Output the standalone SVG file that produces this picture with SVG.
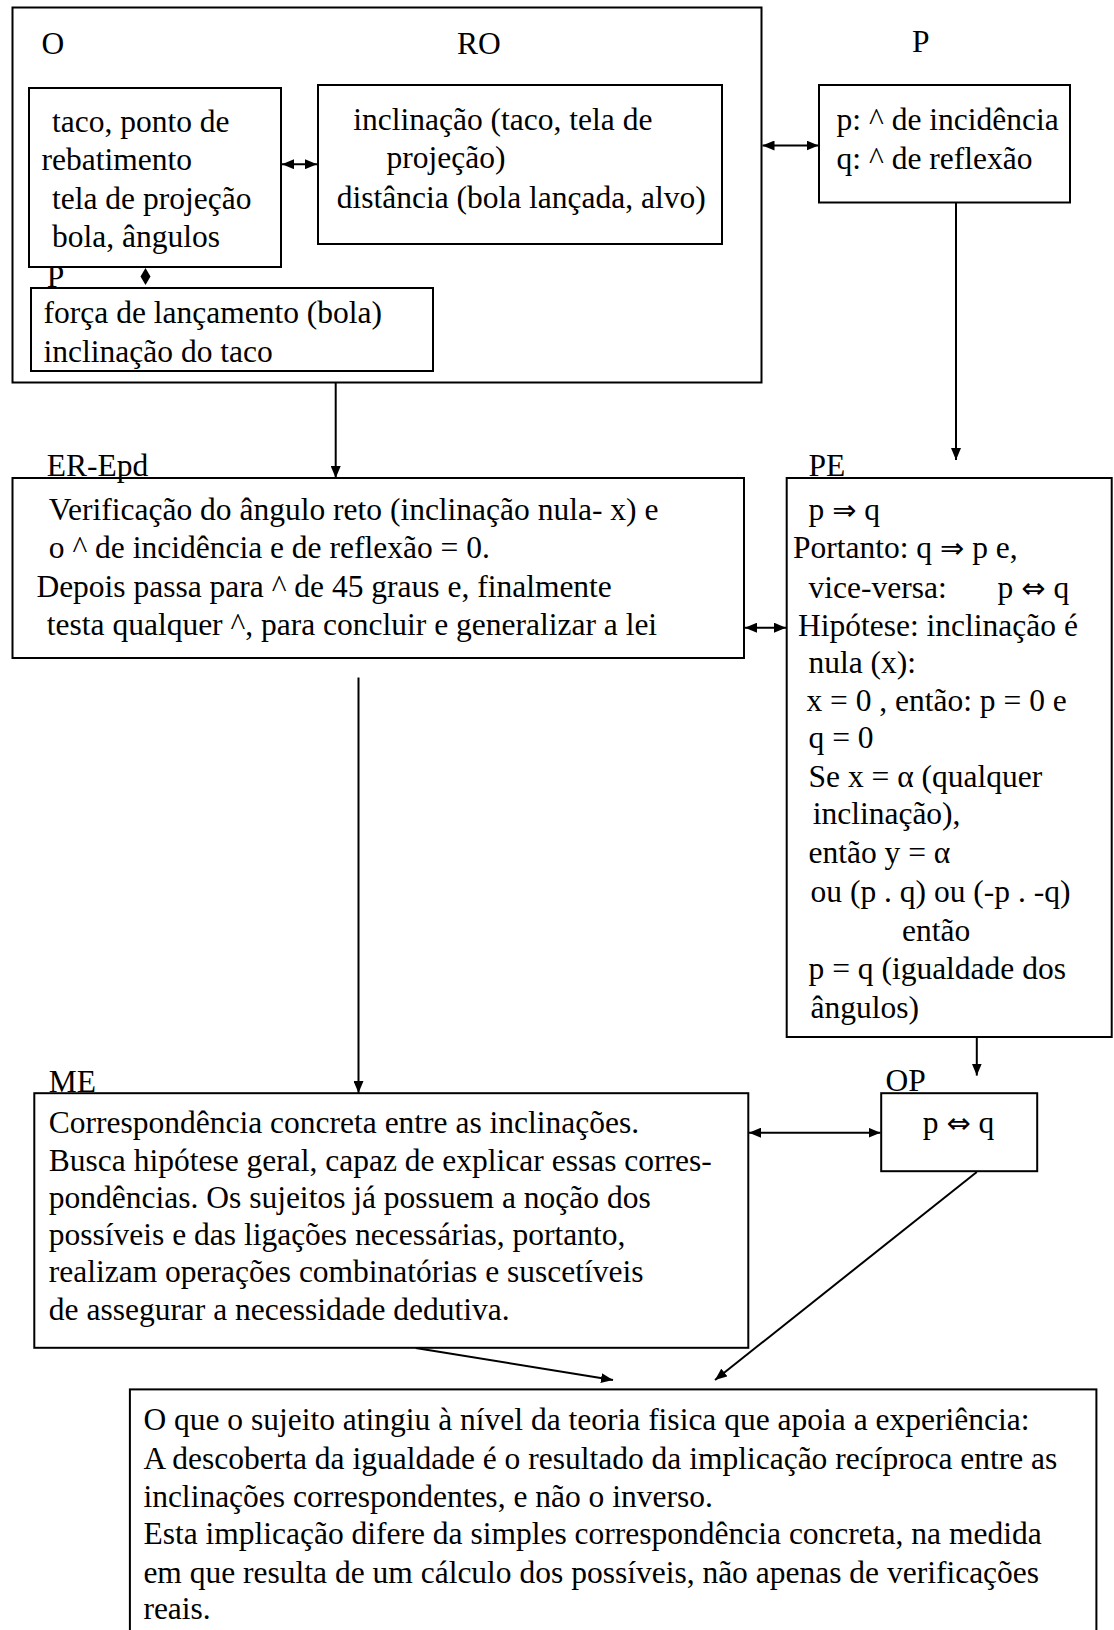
<svg xmlns="http://www.w3.org/2000/svg" width="1114" height="1630" viewBox="0 0 1114 1630">
<defs>
<marker id="arr" viewBox="0 0 12 10" refX="12" refY="5" markerWidth="12" markerHeight="10" markerUnits="userSpaceOnUse" orient="auto-start-reverse">
<path d="M0,0 L12,5 L0,10 z" fill="#000"/>
</marker>
</defs>
<style>
text{font-family:"Liberation Serif","DejaVu Serif",serif;font-size:31.5px;fill:#000}
.sym{font-family:"DejaVu Sans",sans-serif;font-size:29px}
.box{fill:#fff;stroke:#000;stroke-width:2}
.c{fill:none;stroke:#000;stroke-width:2}
</style>
<rect x="0" y="0" width="1114" height="1630" fill="#fff"/>

<g id="node-O">
<rect class="box" x="12.5" y="7.5" width="749" height="375"/>
<text x="41.6" y="54">O</text>
<text x="457" y="54">RO</text>
</g>

<g id="node-O-elements">
<rect class="box" x="29" y="88" width="252" height="179"/>
<text x="52" y="132">taco, ponto de</text>
<text x="41.6" y="170.4">rebatimento</text>
<text x="52" y="209">tela de projeção</text>
<text x="52" y="247.3">bola, ângulos</text>
<text x="46.8" y="287">P</text>
</g>

<g id="node-RO">
<rect class="box" x="318" y="85" width="404" height="159"/>
<text x="353.3" y="130">inclinação (taco, tela de</text>
<text x="386.6" y="168.4">projeção)</text>
<text x="336.7" y="207.8">distância (bola lançada, alvo)</text>
</g>

<g id="node-force">
<rect class="box" x="31" y="288" width="402" height="83"/>
<text x="43.6" y="323.2">força de lançamento (bola)</text>
<text x="43.6" y="361.6">inclinação do taco</text>
</g>

<g id="node-P">
<text x="912" y="52">P</text>
<rect class="box" x="819" y="85" width="251" height="117.5"/>
<text x="836.6" y="130">p: ^ de incidência</text>
<text x="836.6" y="169.4">q: ^ de reflexão</text>
</g>

<g id="node-ER-Epd">
<rect class="box" x="12.5" y="478" width="731.5" height="180"/>
<text x="46.8" y="476">ER-Epd</text>
<text x="48.8" y="519.6">Verificação do ângulo reto (inclinação nula- x) e</text>
<text x="48.8" y="558">o ^ de incidência e de reflexão = 0.</text>
<text x="36.4" y="596.5">Depois passa para ^ de 45 graus e, finalmente</text>
<text x="46.8" y="635">testa qualquer ^, para concluir e generalizar a lei</text>
</g>

<g id="node-PE">
<rect class="box" x="786.7" y="478" width="325" height="559"/>
<text x="808.5" y="476">PE</text>
<text x="808.5" y="519.6">p <tspan class="sym">⇒</tspan> q</text>
<text x="793" y="558">Portanto: q <tspan class="sym">⇒</tspan> p e,</text>
<text x="808.5" y="597.5">vice-versa:</text>
<text x="997.6" y="597.5">p <tspan class="sym">⇔</tspan> q</text>
<text x="798" y="636">Hipótese: inclinação é</text>
<text x="808.5" y="673.4">nula (x):</text>
<text x="806.4" y="710.8">x = 0 , então: p = 0 e</text>
<text x="808.5" y="748.2">q = 0</text>
<text x="808.5" y="786.7">Se x = α (qualquer</text>
<text x="812.7" y="824">inclinação),</text>
<text x="808.5" y="862.5">então y =  α</text>
<text x="810.6" y="902">ou (p . q) ou (-p . -q)</text>
<text x="902" y="940.5">então</text>
<text x="808.5" y="979">p = q (igualdade dos</text>
<text x="810.6" y="1018.4">ângulos)</text>
</g>

<g id="node-ME">
<rect class="box" x="34.3" y="1093.2" width="714" height="254.6"/>
<text x="48.8" y="1092">ME</text>
<text x="48.8" y="1132.7">Correspondência concreta entre as inclinações.</text>
<text x="48.8" y="1171.2">Busca hipótese geral, capaz de explicar essas corres-</text>
<text x="48.8" y="1207.6">pondências. Os sujeitos já possuem a noção dos</text>
<text x="48.8" y="1245">possíveis e das ligações necessárias, portanto,</text>
<text x="48.8" y="1282.4">realizam operações combinatórias e suscetíveis</text>
<text x="48.8" y="1319.8">de assegurar a necessidade dedutiva.</text>
</g>

<g id="node-OP">
<rect class="box" x="881.2" y="1093.2" width="156" height="78"/>
<text x="885.4" y="1091">OP</text>
<text x="922.8" y="1132.7">p <tspan class="sym">⇔</tspan> q</text>
</g>

<g id="node-result">
<rect class="box" x="129.9" y="1389.4" width="966.5" height="260"/>
<text x="143.4" y="1430">O que o sujeito atingiu à nível da teoria fisica que apoia a experiência:</text>
<text x="143.4" y="1469.4">A descoberta da igualdade é o resultado da implicação recíproca entre as</text>
<text x="143.4" y="1506.8">inclinações correspondentes, e não o inverso.</text>
<text x="143.4" y="1544.3">Esta implicação difere da simples correspondência concreta, na medida</text>
<text x="143.4" y="1582.7">em que resulta de um cálculo dos possíveis, não apenas de verificações</text>
<text x="143.4" y="1619">reais.</text>
</g>

<g id="connectors">
<line class="c" x1="282" y1="164.2" x2="317" y2="164.2" marker-start="url(#arr)" marker-end="url(#arr)"/>
<path d="M145.5,268 L150.5,276.5 L145.5,285 L140.5,276.5 z" fill="#000"/>
<line class="c" x1="762.5" y1="145.5" x2="818.5" y2="145.5" marker-start="url(#arr)" marker-end="url(#arr)"/>
<line class="c" x1="335.7" y1="383" x2="335.7" y2="478" marker-end="url(#arr)"/>
<line class="c" x1="956" y1="203" x2="956" y2="460" marker-end="url(#arr)"/>
<line class="c" x1="745" y1="627.7" x2="786" y2="627.7" marker-start="url(#arr)" marker-end="url(#arr)"/>
<line class="c" x1="358.5" y1="677.6" x2="358.5" y2="1093" marker-end="url(#arr)"/>
<line class="c" x1="976.8" y1="1037.5" x2="976.8" y2="1075.6" marker-end="url(#arr)"/>
<line class="c" x1="749" y1="1132.7" x2="880.5" y2="1132.7" marker-start="url(#arr)" marker-end="url(#arr)"/>
<line class="c" x1="976.8" y1="1172" x2="715" y2="1380" marker-end="url(#arr)"/>
<line class="c" x1="415.7" y1="1348" x2="613" y2="1380" marker-end="url(#arr)"/>
</g>
</svg>
